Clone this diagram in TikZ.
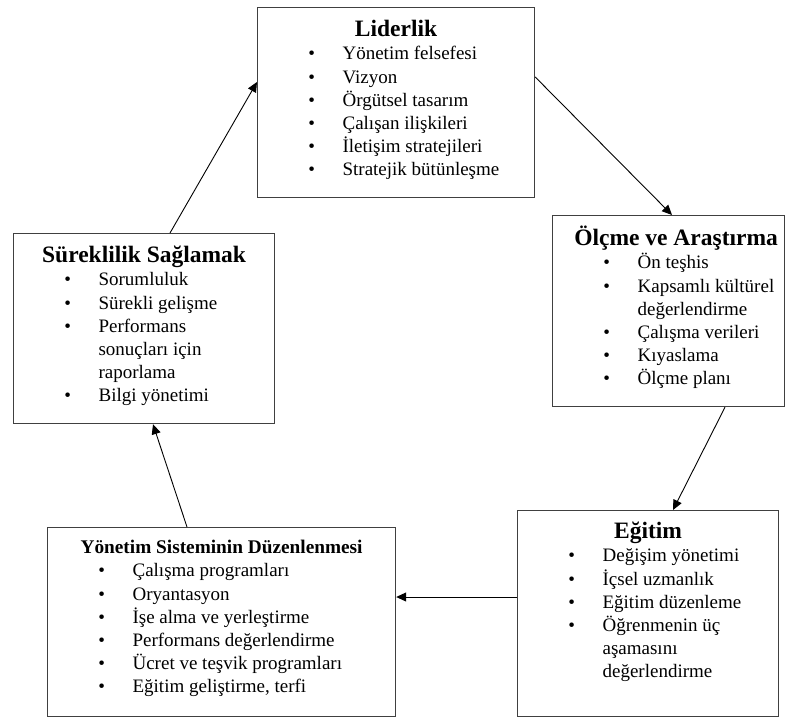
\documentclass[tikz,border=0pt]{standalone}
\usepackage{fontspec}
\setmainfont{Liberation Serif}
\usepackage{tikz}
\usetikzlibrary{positioning,arrows.meta}

% one bullet line: dot at 54pt, text at 85pt, wrapped lines hang at 85pt
\newcommand{\madde}[1]{\par\noindent\hangindent=85pt\hangafter=1\hspace*{54pt}\makebox[0pt]{\textbullet}\hspace*{31pt}#1}
% heading: size, baseline from top, text
\newcommand{\baslik}[3]{{\centering\fontsize{#1}{#1}\bfseries\rule{0pt}{#2}#3\par}}

\begin{document}
\begin{tikzpicture}[x=1pt, y=-1pt, -{Triangle[length=10pt,width=9pt]}, kutu/.style={draw=black!75, line width=1.2pt, rectangle, inner sep=0pt, anchor=north west, font=\fontsize{19}{23.2}\selectfont}, every edge/.append style={line width=0.9pt}]

\useasboundingbox (0,0) rectangle (786,718);

\node[kutu] (lider) at (257,7) {\parbox[t][190pt][t]{277pt}{\baslik{23.5pt}{29pt}{Liderlik}
\madde{Yönetim felsefesi}
\madde{Vizyon}
\madde{Örgütsel tasarım}
\madde{Çalışan ilişkileri}
\madde{İletişim stratejileri}
\madde{Stratejik bütünleşme}}};

\node[kutu] (olcme) at (552,215) {\parbox[t][191pt][t]{232pt}{\baslik{23.5pt}{30pt}{\hspace*{15pt}Ölçme ve Araştırma}
\madde{Ön teşhis}
\madde{Kapsamlı kültürel\\değerlendirme}
\madde{Çalışma verileri}
\madde{Kıyaslama}
\madde{Ölçme planı}}};

\node[kutu] (egitim) at (517,510) {\parbox[t][206pt][t]{261pt}{\baslik{23.5pt}{28pt}{Eğitim}
\madde{Değişim yönetimi}
\madde{İçsel uzmanlık}
\madde{Eğitim düzenleme}
\madde{Öğrenmenin üç\\aşamasını\\değerlendirme}}};

\node[kutu] (yonetim) at (47,527) {\parbox[t][189pt][t]{348pt}{\baslik{19.3pt}{26pt}{Yönetim Sisteminin Düzenlenmesi}
\madde{Çalışma programları}
\madde{Oryantasyon}
\madde{İşe alma ve yerleştirme}
\madde{Performans değerlendirme}
\madde{Ücret ve teşvik programları}
\madde{Eğitim geliştirme, terfi}}};

\node[kutu] (sure) at (13,233) {\parbox[t][190pt][t]{261pt}{\baslik{23.5pt}{29pt}{Süreklilik Sağlamak}
\madde{Sorumluluk}
\madde{Sürekli gelişme}
\madde{Performans\\sonuçları için\\raporlama}
\madde{Bilgi yönetimi}}};

\path
    ([yshift=-70pt]lider.north east) edge ([xshift=120pt]olcme.north west)
    ([xshift=173pt]olcme.south west) edge ([xshift=156pt]egitim.north west)
    ([yshift=-87pt]egitim.north west) edge ([yshift=-70pt]yonetim.north east)
    ([xshift=140pt]yonetim.north west) edge ([xshift=140pt]sure.south west)
    ([xshift=157pt]sure.north west) edge ([yshift=-75pt]lider.north west);
\end{tikzpicture}
\end{document}
